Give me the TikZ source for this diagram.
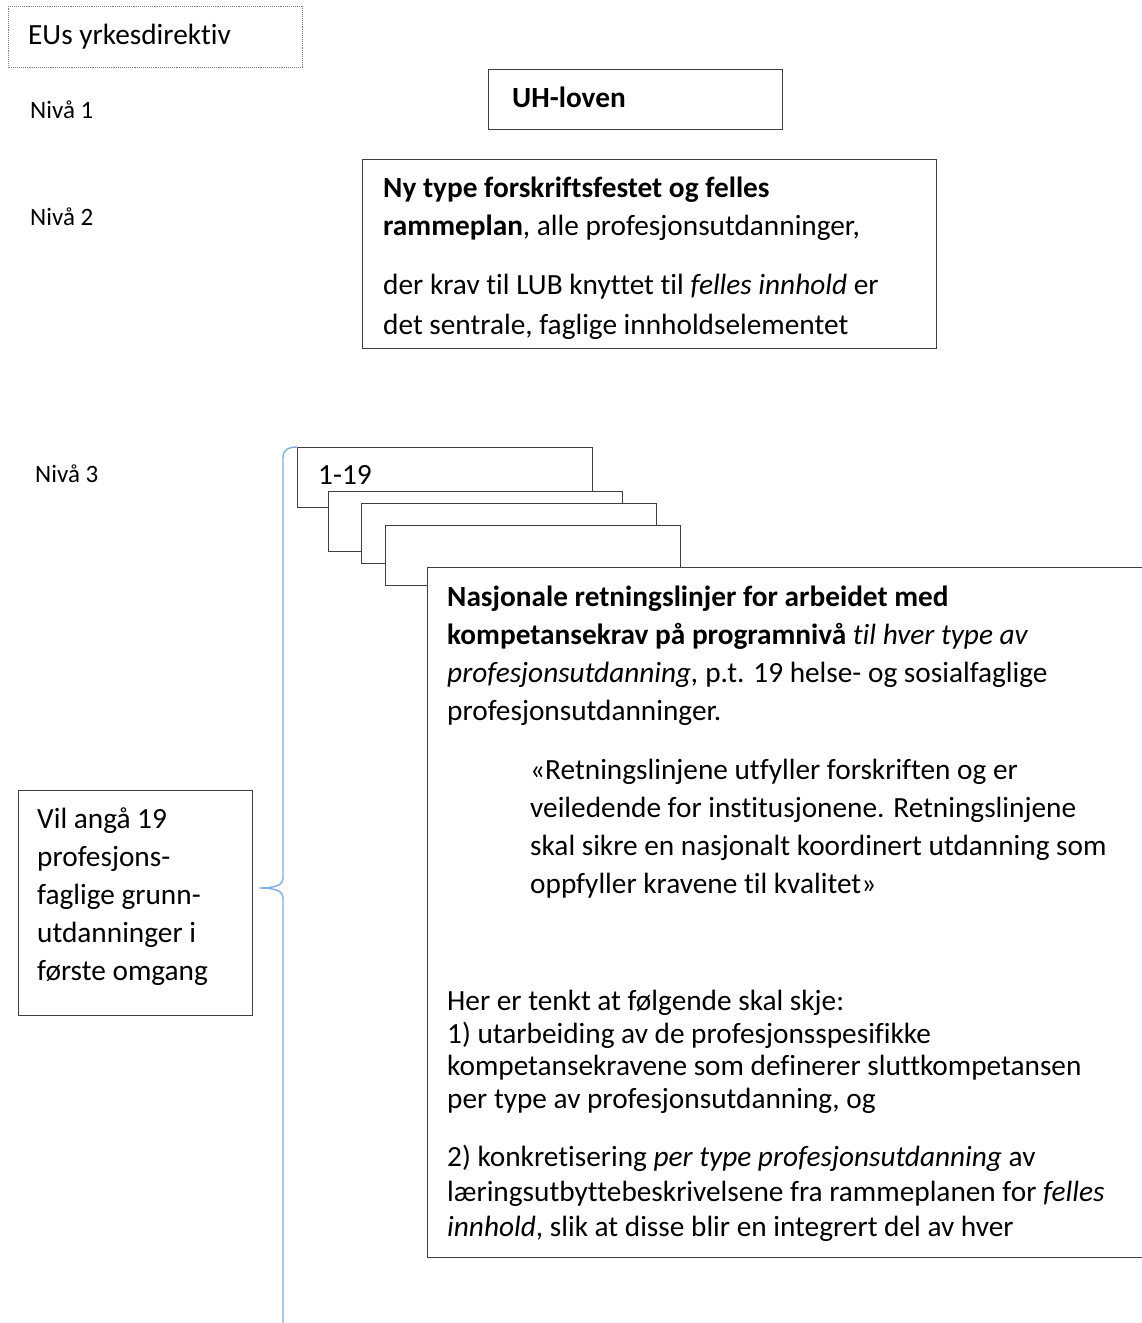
\documentclass[tikz,border=0pt]{standalone}
\usepackage{fontspec}
\setmainfont{Carlito}[Ligatures=NoCommon]
\usetikzlibrary{positioning}
\definecolor{FrameGray}{HTML}{404040}
\definecolor{DotGray}{HTML}{7F7F7F}
\definecolor{BraceBlue}{HTML}{7EAEDD}

\begin{document}
\begin{tikzpicture}[
  x=1pt, y=-1pt,
  frame/.style={rectangle, draw=FrameGray, line width=1.1pt, fill=white,
    inner sep=0pt, anchor=north west},
  dotframe/.style={frame, draw=DotGray, densely dotted, line width=0.9pt},
  txt/.style={inner sep=0pt, anchor=base west, align=left,
    font=\fontsize{29.3}{38}\selectfont},
  level/.style={inner sep=0pt, anchor=base west,
    font=\fontsize{25}{30}\selectfont},
  brace/.style={draw=BraceBlue, line width=1.4pt}
]
\useasboundingbox (0,0) rectangle (1142,1323);

%% Top — directive, law, framework
%% (multi-line text nodes sit on the baseline of their last line)
\node[dotframe, minimum width=294pt, minimum height=61pt] (eudir) at (8,6) {};
\node[txt] (eutext) at ([shift={(20,38)}]eudir.north west) {EUs yrkesdirektiv};

\node[frame, minimum width=294pt, minimum height=60pt] (uhlov) at (488,69) {};
\node[txt] (uhtext) at ([shift={(24,38)}]uhlov.north west) {\textbf{UH-loven}};

\node[frame, minimum width=574pt, minimum height=189pt] (ramme) at (362,159) {};
\begin{scope}
  \clip (ramme.north west) rectangle ([yshift=-9pt]ramme.south east);
  \node[txt] (rammeA) at ([shift={(21,76)}]ramme.north west)
    {\textbf{Ny type forskriftsfestet og felles}\\
     \textbf{rammeplan}, alle profesjonsutdanninger,};
  \node[txt, font=\fontsize{29.3}{40}\selectfont] (rammeB) at ([shift={(21,175)}]ramme.north west)
    {der krav til LUB knyttet til \textit{felles innhold} er\\
     det sentrale, faglige innholdselementet};
\end{scope}

%% Level labels
\node[level] (niva1) at (30,118) {Nivå 1};
\node[level] (niva2) at (30,225) {Nivå 2};
\node[level] (niva3) at (35,482) {Nivå 3};

%% Stack of guideline documents
\node[frame, minimum width=295pt, minimum height=60pt] (stackA) at (297,447) {};
\node[txt] (stacktext) at ([shift={(21,37)}]stackA.north west) {1-19};
\node[frame, minimum width=294pt, minimum height=60pt] (stackB) at (328,491) {};
\node[frame, minimum width=295pt, minimum height=60pt] (stackC) at (361,503) {};
\node[frame, minimum width=295pt, minimum height=60pt] (stackD) at (385,525) {};
\node[frame, minimum width=717pt, minimum height=690pt] (retn) at (427,567) {};

\node[txt] (retnA) at ([shift={(20,153)}]retn.north west)
  {\textbf{Nasjonale retningslinjer for arbeidet med}\\
   \textbf{kompetansekrav på programnivå} \textit{til hver type av}\\
   \textit{profesjonsutdanning,} p.t. 19 helse- og sosialfaglige\\
   profesjonsutdanninger.};
\node[txt] (retnQ) at ([shift={(103,326)}]retn.north west)
  {«Retningslinjene utfyller forskriften og er\\
   veiledende for institusjonene. Retningslinjene\\
   skal sikre en nasjonalt koordinert utdanning som\\
   oppfyller kravene til kvalitet»};
\node[txt, font=\fontsize{29.3}{32.5}\selectfont] (retnB) at ([shift={(20,541)}]retn.north west)
  {Her er tenkt at følgende skal skje:\\
   1) utarbeiding av de profesjonsspesifikke\\
   kompetansekravene som definerer sluttkompetansen\\
   per type av profesjonsutdanning, og};
\node[txt, font=\fontsize{29.3}{35}\selectfont] (retnC) at ([shift={(20,669)}]retn.north west)
  {2) konkretisering \textit{per type profesjonsutdanning} av\\
   læringsutbyttebeskrivelsene fra rammeplanen for \textit{felles}\\
   \textit{innhold}, slik at disse blir en integrert del av hver};

%% Left — scope note
\node[frame, minimum width=234pt, minimum height=225pt] (omfang) at (18,790) {};
\node[txt] (omfangtext) at ([shift={(19,190)}]omfang.north west)
  {Vil angå 19\\ profesjons-\\ faglige grunn-\\ utdanninger i\\ første omgang};

%% Brace
\coordinate (bracetip) at (259,888);
\draw[brace] (stackA.north west) .. controls (289,447) and (283,449) .. (283,458)
  -- (283,878) .. controls (283,885) and (276,888) .. (bracetip)
  .. controls (276,888) and (283,891) .. (283,898) -- (283,1330);

\end{tikzpicture}
\end{document}
